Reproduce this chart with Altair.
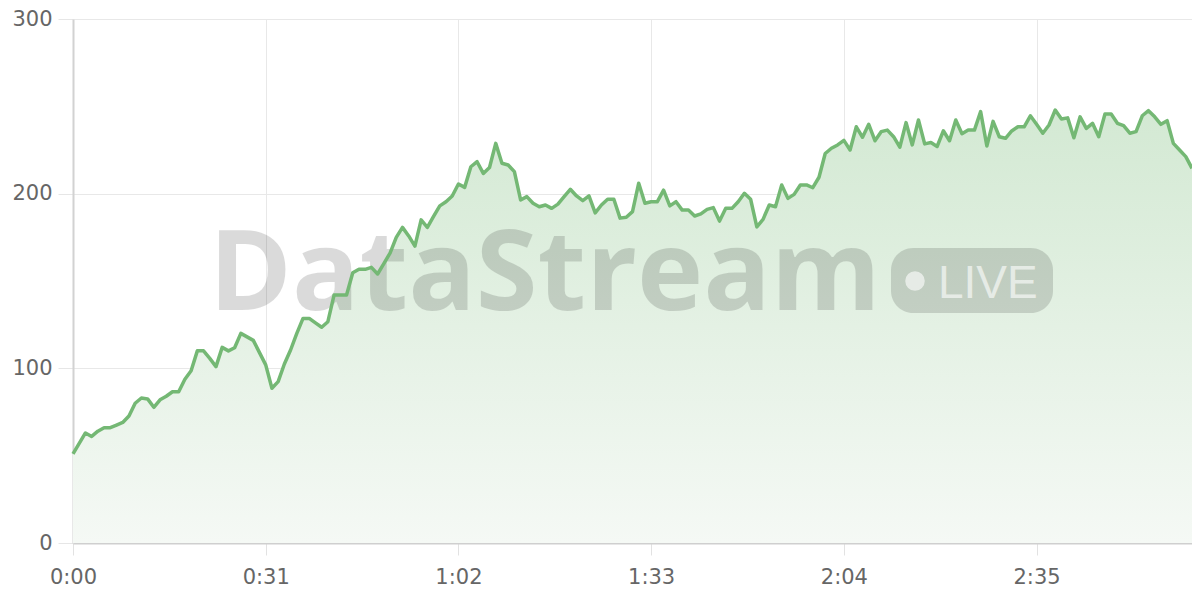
import altair as alt
import pandas as pd

# time in seconds (one sample per second)
seconds = list(range(181))
values = [
    51, 57, 63, 61, 64, 66, 66, 67.5, 69, 72.7,
    80, 83, 82.5, 77.7, 82, 84, 86.6, 86.6, 93.7, 98.6,
    110, 110, 105.7, 101, 112, 110, 111.8, 120, 118, 116,
    109, 102, 88.6, 92.4, 102.5, 110.5, 120, 128.6, 128.6, 126,
    123.5, 126.7, 142, 142, 142, 154.7, 156.7, 156.7, 157.8, 154,
    160, 166, 175, 180.7, 175.8, 170, 185, 180.7, 187, 193,
    195.4, 198.7, 205.5, 203.6, 215.4, 218.3, 211.6, 215, 228.8, 217.4,
    216.4, 212.6, 196.4, 198.3, 194.5, 192.5, 193.5, 191.6, 194, 198.3,
    202.5, 198.7, 196, 198.7, 189, 193.5, 196.8, 196.8, 186, 186.5,
    189.7, 206, 194.5, 195.4, 195.4, 202, 193, 195.4, 190.6, 190.6,
    187.2, 188.4, 191, 192, 184.3, 191.6, 191.6, 195.4, 200.2, 196.8,
    181, 185.3, 193.5, 192.5, 205, 197.3, 199.6, 205, 205, 203.4,
    209.4, 223, 226, 227.9, 230.5, 225, 238.3, 232.3, 239.7, 230.3,
    235.5, 236.4, 232.6, 226.6, 240.7, 227.9, 242.2, 228.5, 229.3, 227,
    236, 230.3, 242.2, 234.3, 236.4, 236.4, 247, 227.3, 241.4, 232.6,
    231.7, 235.9, 238.3, 238.3, 244.6, 239.7, 234.6, 239.3, 247.9, 242.7,
    243.4, 232, 244, 237.4, 240.3, 232.6, 245.6, 245.6, 240.3, 238.9,
    234.6, 235.5, 244.6, 247.5, 244, 239.7, 241.8, 228.8, 225, 221.2,
    214.5,
]
x_ticks = [0, 31, 62, 93, 124, 155]
y_ticks = [0, 100, 200, 300]
watermark_text = ["DataStream"]
badge_text = ["LIVE"]

df = pd.DataFrame({"t": seconds, "v": values})

W, H = 1119, 524
LINE = "#74b874"
FONT = "Open Sans"
AXFONT = "DejaVu Sans"

x_enc = alt.X(
    "t:Q",
    scale=alt.Scale(domain=[0, 180], nice=False, zero=False),
    axis=alt.Axis(
        values=x_ticks,
        title=None,
        labelExpr="floor(datum.value/60) + ':' + (datum.value % 60 < 10 ? '0' : '') + (datum.value % 60)",
        labelFlush=False,
        grid=True,
        gridColor="#e8e8e8",
        gridWidth=1,
        domainColor="#cfcfcf",
        domainWidth=2,
        tickColor="#e2e2e2",
        tickSize=12,
        labelPadding=11,
        labelFontSize=21,
        labelColor="#666666",
        labelFont=AXFONT,
    ),
)
y_enc = alt.Y(
    "v:Q",
    scale=alt.Scale(domain=[0, 300], nice=False),
    axis=alt.Axis(
        values=y_ticks,
        title=None,
        labelFlush=False,
        grid=True,
        gridColor="#e8e8e8",
        gridWidth=1,
        domainColor="#d2d2d2",
        domainWidth=2,
        tickColor="#e6e6e6",
        tickSize=15,
        labelPadding=6,
        labelFontSize=21,
        labelColor="#666666",
        labelFont=AXFONT,
    ),
)

base = alt.Chart(df)

area = base.mark_area(
    color=alt.Gradient(
        gradient="linear",
        stops=[
            alt.GradientStop(color="#d3e9d3", offset=0),
            alt.GradientStop(color="#f5f9f5", offset=1),
        ],
        x1=0, x2=0, y1=0, y2=1,
    ),
    line=False,
).encode(x=x_enc, y=y_enc)

wm = alt.Chart(pd.DataFrame({"w": watermark_text})).mark_text(
    font=FONT, fontSize=112, fontWeight="bold", align="left", baseline="alphabetic",
    color="#000000", opacity=0.14,
).encode(text="w:N", x=alt.value(136), y=alt.value(291))

badge = alt.Chart(pd.DataFrame({"b": badge_text})).mark_rect(
    color="#000000", opacity=0.14, cornerRadius=22,
).encode(x=alt.value(818), x2=alt.value(980), y=alt.value(229), y2=alt.value(294))

dot = alt.Chart(pd.DataFrame({"b": badge_text})).mark_point(
    shape="circle", filled=True, color="#ffffff", opacity=0.6, size=380,
).encode(x=alt.value(842), y=alt.value(262))

live = alt.Chart(pd.DataFrame({"b": badge_text})).mark_text(
    font="Liberation Sans", fontSize=46, align="left", baseline="alphabetic",
    color="#ffffff", opacity=0.6,
).encode(text="b:N", x=alt.value(865), y=alt.value(279))

line = base.mark_line(color=LINE, strokeWidth=3.5, strokeJoin="round").encode(x=x_enc, y=y_enc)

chart = alt.layer(area, wm, badge, dot, live, line).properties(
    width=W, height=H,
    autosize=alt.AutoSizeParams(type="none"),
    padding={"left": 65, "top": 11, "right": 0, "bottom": 48},
).configure_view(stroke=None)

chart.save("out.html", embed_options={"renderer": "svg", "actions": False})
